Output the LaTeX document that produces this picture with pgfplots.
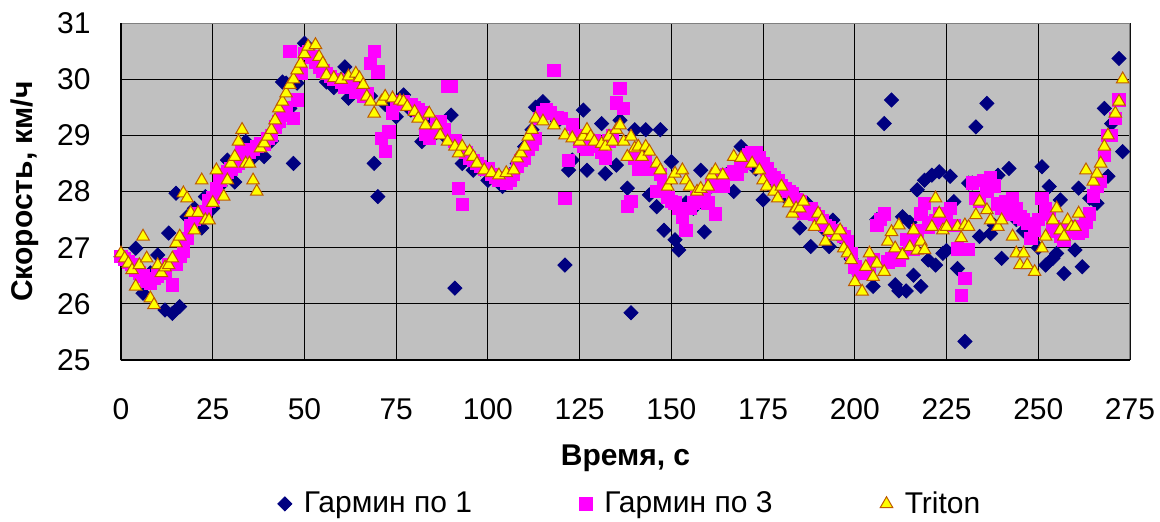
\documentclass[border=0pt]{standalone}
\usepackage{fontspec}
\setmainfont{Liberation Sans}
\usepackage{pgfplots}
\usepackage{pgfplotstable}
\pgfplotsset{compat=1.18}
\definecolor{navyc}{RGB}{0,0,128}
\definecolor{magc}{RGB}{255,0,255}
\definecolor{yelc}{RGB}{255,255,0}
\definecolor{brc}{RGB}{190,90,0}
\definecolor{bgc}{RGB}{192,192,192}
\definecolor{framec}{RGB}{128,128,128}
\newcommand{\cf}{\fontsize{15}{18}\selectfont}

\pgfplotstableread{
t v
0 26.84
2 26.75
4 26.99
6 26.19
8 26.55
10 26.87
12 25.89
13 27.26
14 25.83
15 27.97
16 25.95
18 27.55
20 27.70
22 27.35
23 27.91
25 27.70
27 28.10
29 28.56
31 28.17
34 28.89
36 28.60
39 28.62
41 28.90
43 29.20
44 29.95
45 29.93
46 29.48
47 28.50
48 29.93
50 30.64
52 30.45
54 30.30
56 29.95
58 29.85
60 30.00
61 30.22
62 29.66
64 29.95
66 29.80
68 29.70
69 28.50
70 27.91
72 29.55
75 29.33
77 29.72
79 29.45
82 28.89
84 29.20
86 29.05
88 29.00
90 29.36
91 26.28
93 28.50
96 28.38
98 28.40
100 28.20
102 28.25
104 28.09
106 28.30
108 28.50
110 28.80
112 29.10
113 29.50
115 29.60
117 29.40
119 29.25
121 26.69
122 28.38
123 28.56
124 29.00
126 29.45
127 28.38
129 28.85
131 29.21
132 28.32
135 28.47
136 29.27
138 28.06
139 25.84
140 29.10
141 28.70
143 29.10
144 27.94
146 27.73
147 29.10
148 27.31
150 28.53
151 27.14
152 26.96
154 27.80
156 27.70
158 28.38
159 27.28
161 28.10
163 28.20
165 28.30
167 28.00
169 28.80
171 28.60
173 28.40
175 27.85
177 28.10
179 28.00
181 27.90
183 27.97
185 27.35
186 27.70
187 27.79
188 27.02
190 27.50
192 27.30
193 27.02
194 27.49
196 27.20
198 27.00
199 26.80
201 26.54
203 26.60
205 26.31
206 27.50
208 29.21
210 29.63
211 26.34
212 26.23
213 27.55
214 26.23
215 27.45
216 26.51
217 28.03
218 26.31
219 28.20
220 26.78
221 28.29
222 26.69
223 28.35
224 26.90
225 26.95
226 28.27
227 27.82
228 26.63
230 25.33
231 28.15
232 28.15
233 29.15
234 27.20
236 29.57
237 27.25
238 27.40
239 28.29
240 26.81
242 28.41
244 27.50
246 27.30
248 27.20
250 27.00
251 28.44
252 26.69
253 28.09
254 26.81
255 26.90
256 27.85
257 26.54
259 27.30
260 26.96
261 28.06
262 26.66
264 27.88
266 27.79
268 29.48
269 28.27
270 29.21
272 30.37
273 28.71
}\garminone

\pgfplotstableread{
t v
0 26.85
1 26.80
2 26.75
3 26.70
4 26.60
5 26.55
6 26.50
7 26.40
8 26.37
9 26.45
10 26.50
11 26.60
12 26.55
13 26.70
14 26.34
15 26.70
16 26.85
17 26.93
18 27.16
19 27.40
20 27.50
21 27.60
22 27.55
23 27.65
24 27.83
25 27.90
26 28.05
27 28.20
28 28.30
29 28.35
30 28.40
31 28.45
32 28.50
33 28.75
34 28.70
35 28.70
36 28.75
37 28.80
38 28.86
39 28.85
40 28.95
41 29.00
42 29.15
43 29.25
44 29.35
45 29.50
46 30.50
47 29.30
48 29.63
49 30.10
50 30.46
51 30.50
52 30.40
53 30.30
54 30.22
55 30.15
56 30.10
57 30.05
58 30.00
59 30.00
60 29.95
61 29.85
62 29.90
63 29.85
64 29.77
65 29.80
66 29.70
67 29.75
68 30.28
69 30.49
70 30.13
71 28.95
72 28.71
73 29.06
74 29.40
75 29.55
76 29.60
77 29.60
78 29.55
79 29.55
80 29.50
81 29.45
82 29.40
83 29.02
84 28.95
85 29.10
86 29.20
87 29.25
88 29.10
89 29.87
90 29.87
91 28.90
92 28.06
93 27.77
94 28.70
95 28.60
96 28.55
97 28.50
98 28.45
99 28.40
100 28.40
101 28.30
102 28.25
103 28.20
104 28.20
105 28.15
106 28.20
107 28.30
108 28.45
109 28.55
110 28.60
111 28.75
112 28.85
113 28.95
114 29.30
115 29.40
116 29.45
117 29.40
118 30.16
119 29.32
120 29.30
121 27.88
122 28.55
123 29.20
124 29.00
125 28.90
126 28.80
127 28.75
128 28.85
129 28.90
130 28.80
131 28.70
132 28.60
133 28.90
134 29.00
135 29.58
136 29.84
137 29.48
138 27.73
139 27.82
140 28.60
141 28.40
142 28.45
143 28.55
144 28.40
145 28.40
146 28.00
147 28.30
148 28.10
149 27.90
150 27.82
151 27.80
152 27.70
153 27.55
154 27.31
155 27.70
156 27.80
157 27.90
158 27.82
159 28.00
160 27.80
161 28.10
162 27.60
163 28.20
164 28.10
165 28.30
166 28.30
167 28.35
168 28.30
169 28.45
170 28.50
171 28.65
172 28.70
173 28.70
174 28.60
175 28.50
176 28.40
177 28.30
178 28.25
179 28.20
180 28.10
181 28.05
182 28.00
183 27.97
184 27.85
185 27.82
186 27.61
187 27.65
188 27.70
189 27.60
190 27.55
191 27.49
192 27.40
193 27.35
194 27.31
195 27.28
196 27.25
197 27.20
198 27.10
199 26.90
200 26.66
201 26.60
202 26.54
203 26.54
204 26.60
205 26.78
206 27.40
207 27.50
208 27.60
209 26.75
210 26.80
211 26.85
212 26.78
213 26.90
214 27.15
215 27.05
216 26.98
217 27.30
218 27.60
219 27.79
220 27.37
221 27.45
222 27.49
223 27.60
224 27.50
225 27.55
226 27.70
227 27.40
228 26.98
229 26.15
230 26.45
231 26.97
232 28.15
233 27.88
234 27.82
235 28.20
236 28.00
237 28.24
238 28.10
239 27.78
240 27.70
241 27.82
242 27.60
243 27.88
244 27.70
245 27.55
246 27.50
247 27.43
248 27.17
249 27.31
250 27.50
251 27.88
252 27.70
253 27.60
254 27.37
255 27.30
256 27.20
257 27.14
258 27.30
259 27.35
260 27.37
261 27.25
262 27.30
263 27.45
264 27.60
265 27.92
266 28.10
267 28.18
268 28.65
269 29.00
270 29.00
271 29.30
272 29.63
}\garminthree

\pgfplotstableread{
t v
0 26.90
1 26.81
2 26.72
3 26.60
4 26.31
5 26.69
6 27.20
7 26.81
8 26.10
9 25.98
10 26.69
11 26.55
12 26.65
13 26.69
14 26.81
15 27.08
16 27.20
17 27.97
18 27.88
19 27.62
20 27.31
21 27.62
22 28.20
23 27.49
24 27.49
25 27.80
26 28.38
28 27.91
29 28.20
30 28.50
31 28.62
32 28.89
33 29.10
34 28.50
35 28.50
36 28.20
37 28.00
38 28.77
39 28.86
40 28.98
41 29.10
42 29.27
43 29.48
44 29.60
45 29.75
46 29.90
47 30.00
48 30.16
49 30.28
50 30.45
51 30.58
53 30.61
54 30.40
55 30.28
56 30.07
58 30.02
60 29.99
62 30.05
64 30.10
65 30.02
66 29.90
67 29.69
68 29.60
69 29.39
71 29.60
72 29.69
74 29.66
76 29.62
77 29.60
78 29.51
80 29.42
81 29.30
83 29.18
84 29.39
86 29.18
87 29.00
89 28.89
91 28.80
92 28.68
93 28.80
95 28.71
96 28.62
97 28.50
99 28.38
101 28.33
103 28.29
105 28.33
107 28.38
108 28.59
109 28.68
110 28.80
111 28.98
112 29.10
113 29.30
115 29.25
118 29.18
121 29.00
123 28.95
125 28.89
126 28.98
127 29.10
128 28.98
129 28.89
131 28.85
132 28.80
133 28.98
134 28.89
135 29.10
136 29.18
137 28.89
138 28.62
139 28.98
140 28.77
141 28.80
142 28.62
143 28.80
144 28.71
146 28.50
147 28.38
149 28.09
150 28.20
151 28.32
153 28.38
154 28.20
155 28.09
157 28.00
158 28.05
160 28.09
161 28.29
162 28.38
164 28.29
167 28.62
169 28.60
172 28.50
174 28.38
175 28.20
176 28.09
178 28.00
179 27.88
180 28.09
182 27.79
183 27.61
184 27.70
185 27.70
186 27.82
189 27.37
190 27.61
191 27.49
192 27.11
193 27.30
195 27.20
196 27.31
197 26.99
198 26.90
199 26.78
200 26.39
202 26.22
203 26.66
204 26.90
205 26.48
206 26.72
208 26.57
209 27.11
210 27.28
211 26.99
212 27.40
213 26.87
215 27.01
216 27.31
217 26.95
218 27.11
219 26.96
221 27.37
222 27.88
223 27.61
224 27.31
225 27.37
228 27.37
229 27.17
230 27.40
231 27.37
233 27.58
234 27.82
236 27.67
237 27.49
239 27.37
240 27.49
243 27.20
244 26.90
245 26.69
246 26.90
247 26.69
249 26.57
251 26.99
252 27.20
254 27.49
255 27.70
256 27.31
257 27.20
258 27.49
259 27.37
260 27.37
261 27.61
263 28.38
265 28.18
266 28.32
267 28.50
268 28.80
269 29.00
271 29.39
272 29.60
273 30.00
}\triton

\begin{document}
\begin{tikzpicture}
\begin{axis}[
  scale only axis, width=504.5pt, height=168.5pt,
  xmin=0, xmax=275, ymin=25, ymax=31,
  xtick={0,25,...,275}, ytick={25,26,...,31},
  grid=major, major grid style={black, line width=0.5pt},
  axis background/.style={fill=bgc},
  axis line style={draw=none},
  major tick length=0pt,
  tick style={draw=none},
  /pgf/number format/assume math mode=true,
  ticklabel style={font=\cf},
  xticklabel style={anchor=base, inner sep=0pt, yshift=-29.5pt},
  yticklabel style={anchor=east, inner sep=0pt, xshift=-15pt},
  xlabel={\textbf{Время, с}}, ylabel={\textbf{Скорость, км/ч}},
  xlabel style={font=\cf, at={(axis description cs:0.5,-0.3116)}, anchor=base, inner sep=0pt},
  ylabel style={font=\cf, at={(axis description cs:-0.0882,0.5)}, anchor=base, inner sep=0pt},
  legend style={draw=none, fill=none, legend columns=3, font=\cf,
    at={(axis description cs:0.149,-0.427)}, anchor=west},
  legend image code/.code={\draw[mark repeat=2,mark phase=2,#1] plot coordinates {(0cm,0cm) (0.2cm,0cm) (0.4cm,0cm)};},
]
\addplot[only marks, mark=square*, mark size=2.5pt, mark options={rotate=45, fill=navyc, draw=navyc}] table[x=t,y=v] {\garminone};
\addlegendentry{\makebox[140pt][l]{\hspace{4pt}Гармин по 1}}
\addplot[only marks, mark=square*, mark size=3.1pt, mark options={fill=magc, draw=magc}] table[x=t,y=v] {\garminthree};
\addlegendentry{\makebox[140pt][l]{\hspace{4pt}Гармин по 3}}
\addplot[only marks, mark=triangle*, mark size=3.6pt, mark options={fill=yelc, draw=brc, line width=0.5pt}] table[x=t,y=v] {\triton};
\addlegendentry{\hspace{4pt}Triton}
\draw[framec, line width=0.6pt] (rel axis cs:0,1) -- (rel axis cs:1,1) -- (rel axis cs:1,0);
\draw[black, line width=1.2pt] (rel axis cs:0,1) -- (rel axis cs:0,0) -- (rel axis cs:1,0);
\end{axis}
\pgfresetboundingbox
\useasboundingbox (-60.5pt,-80.5pt) rectangle (519.5pt,180pt);
\end{tikzpicture}
\end{document}
